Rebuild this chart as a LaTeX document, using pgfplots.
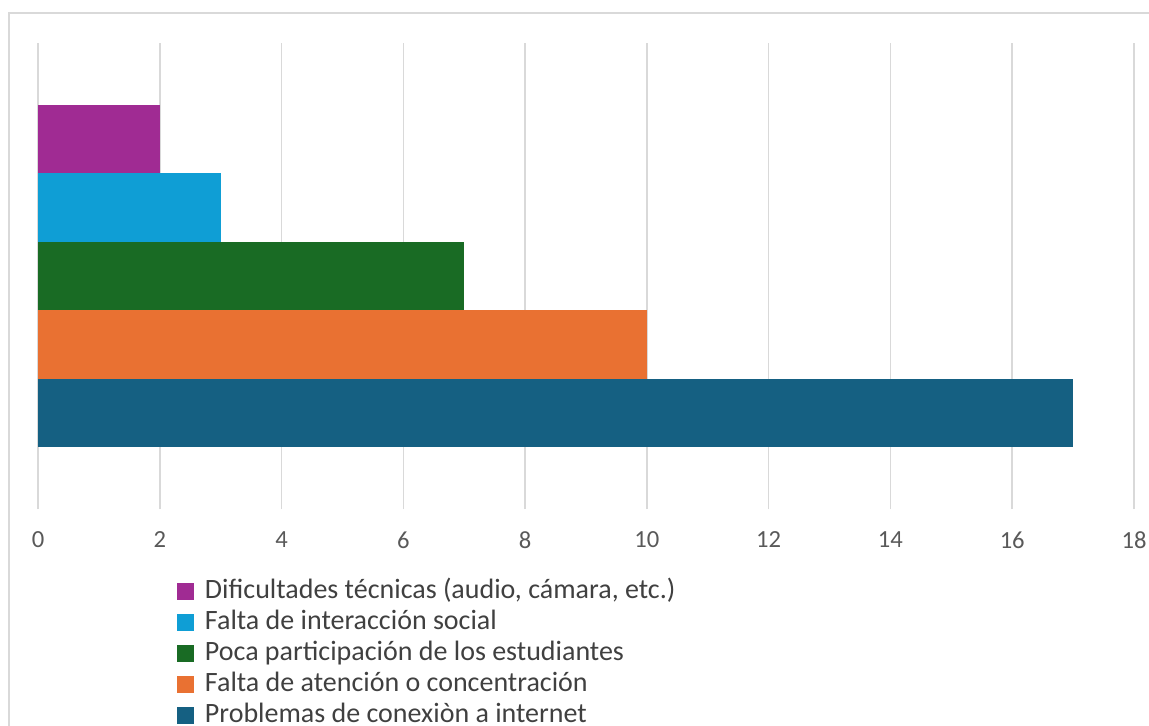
\documentclass[border=0pt]{standalone}
\usepackage{pgfplots}
\pgfplotsset{compat=1.18}
\usepackage{fontspec}
\setmainfont{Carlito}
\definecolor{cPurple}{HTML}{A02B93}
\definecolor{cCyan}{HTML}{0F9ED5}
\definecolor{cGreen}{HTML}{196B24}
\definecolor{cOrange}{HTML}{E97132}
\definecolor{cBlue}{HTML}{156082}
\definecolor{gridgray}{HTML}{D9D9D9}
\definecolor{framegray}{HTML}{D9D9D9}
\definecolor{ticktext}{HTML}{595959}
\definecolor{legtext}{HTML}{404040}
\begin{document}
\begin{tikzpicture}[x=1pt,y=1pt]
\useasboundingbox (0,0) rectangle (574.5,362.5);
\draw[framegray, line width=0.8pt] (4.5,-5) -- (4.5,356) -- (590,356);
\begin{axis}[
  at={(19pt,108pt)}, anchor=south west,
  scale only axis, width=548pt, height=233pt,
  xmin=0, xmax=18, ymin=0, ymax=6.8,
  xbar, bar width=1, bar shift=0pt,
  axis line style={draw=none},
  xtick={0,2,4,6,8,10,12,14,16,18},
  xticklabels={0,2,4,6,8,10,12,14,16,18},
  ytick=\empty,
  major tick length=0pt,
  xmajorgrids, grid style={gridgray, line width=0.75pt},
  x tick label style={anchor=center, yshift=-15.5pt, font=\fontsize{12.3}{14}\selectfont, text=ticktext},
  legend style={at={(0.1268,-0.1438)}, anchor=north west, draw=none, fill=none,
    inner sep=0pt, outer sep=0pt, row sep=0pt, column sep=5.5pt,
    font=\fontsize{14}{15.5}\selectfont, text=legtext,
    nodes={inner sep=0pt, text height=11pt, text depth=4.5pt}},
  legend cell align=left,
  legend image code/.code={\fill[#1] (0pt,-4.25pt) rectangle (8.5pt,4.25pt);},
]
\addplot[fill=cPurple, draw=none] coordinates {(2,5.4)};
\addplot[fill=cCyan, draw=none] coordinates {(3,4.4)};
\addplot[fill=cGreen, draw=none] coordinates {(7,3.4)};
\addplot[fill=cOrange, draw=none] coordinates {(10,2.4)};
\addplot[fill=cBlue, draw=none] coordinates {(17,1.4)};
\legend{{Dificultades técnicas (audio, cámara, etc.)},{Falta de interacción social},{Poca participación de los estudiantes},{Falta de atención o concentración},{Problemas de conexiòn a internet}}
\end{axis}
\end{tikzpicture}
\end{document}
